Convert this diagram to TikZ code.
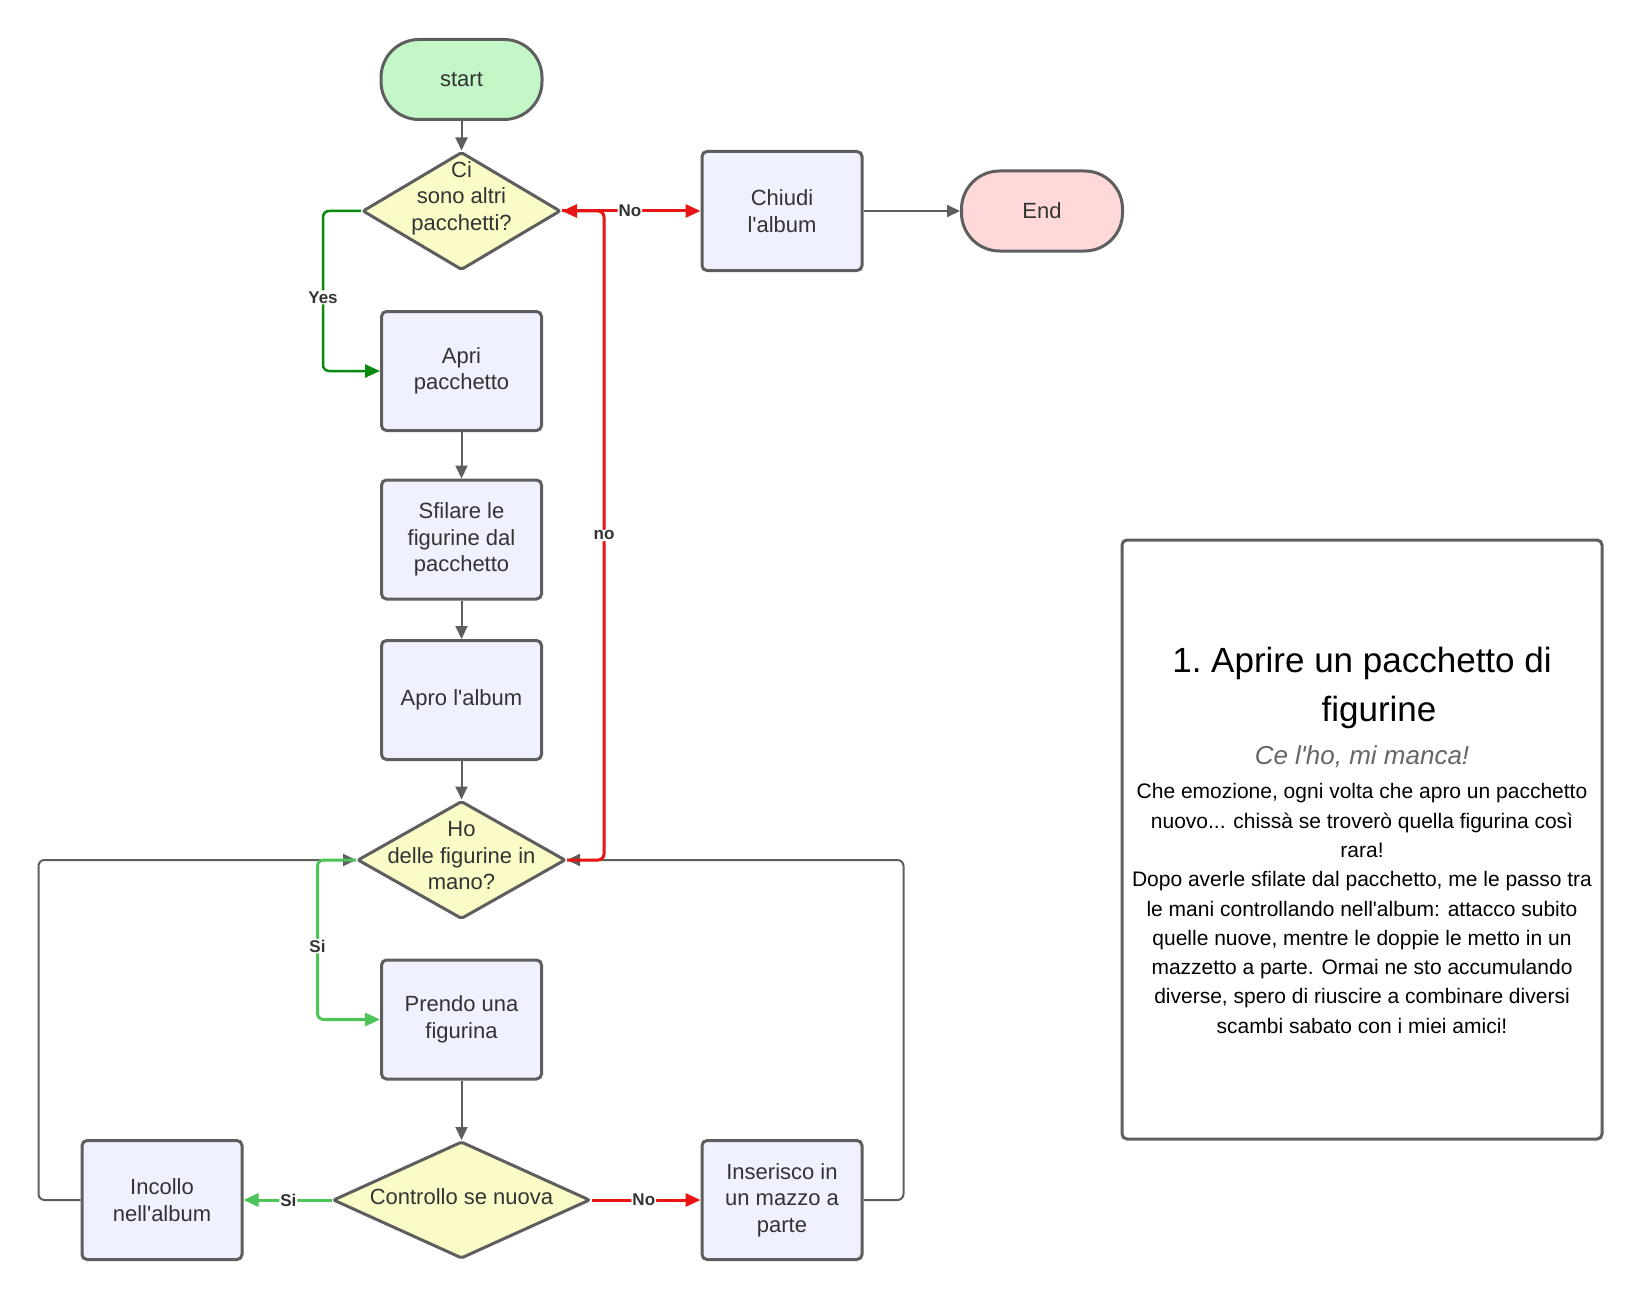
\documentclass[tikz,border=0pt]{standalone}
\usepackage{fontspec}
\setmainfont{Liberation Sans}[Ligatures=TeXOff]
\usetikzlibrary{shapes.geometric,arrows.meta}

\definecolor{lineGray}{HTML}{5E5E5E}
\definecolor{textGray}{HTML}{333333}
\definecolor{startFill}{HTML}{C3F7C8}
\definecolor{endFill}{HTML}{FFD9D9}
\definecolor{procFill}{HTML}{F0F1FE}
\definecolor{decFill}{HTML}{FBFBC8}
\definecolor{noRed}{HTML}{E81313}
\definecolor{yesGreen}{HTML}{088A10}
\definecolor{siGreen}{HTML}{4DC458}

\tikzset{
	base/.style={draw=lineGray, line width=3pt, text=textGray,
		font=\fontsize{22}{26.5}\selectfont, align=center, inner sep=0pt},
	terminal/.style={base, rounded corners=38pt, minimum width=161pt, minimum height=80pt},
	process/.style={base, fill=procFill, rounded corners=5pt, minimum width=160pt, minimum height=119pt},
	decision/.style={draw=lineGray, line width=3pt, fill=decFill, diamond, inner sep=0pt, rounded corners=2pt},
	dtext/.style={text=textGray, font=\fontsize{22}{26.5}\selectfont, align=center, inner sep=0pt},
	flow/.style={line width=2pt, draw=lineGray, rounded corners=6pt, -{Triangle[length=13pt,width=12pt]}},
	noflow/.style={flow, draw=noRed, line width=3pt, -{Triangle[length=15pt,width=13pt]}},
	yesflow/.style={flow, draw=yesGreen, line width=2.5pt, -{Triangle[length=15pt,width=13pt]}},
	siflow/.style={flow, draw=siGreen, line width=3pt, -{Triangle[length=15pt,width=13pt]}},
	lbl/.style={fill=white, text=textGray, font=\bfseries\fontsize{17}{19}\selectfont, inner sep=1pt},
}

\begin{document}
\begin{tikzpicture}[x=1pt, y=-1pt]
	\useasboundingbox[fill=white] (0,0) rectangle (1643,1300);

	% flowchart shapes
	\node[terminal, fill=startFill] (start) at (461.5,79.5) {start};
	\node[decision, minimum width=198pt, minimum height=118pt] (d1) at (461.5,211) {};
	\node[dtext] (d1t) at (461.5,198) {Ci\\sono altri\\pacchetti?};
	\node[process] (chiudi) at (782,211) {Chiudi\\l'album};
	\node[terminal, fill=endFill] (end) at (1042,211) {End};
	\node[process] (apri) at (461.5,371) {Apri\\pacchetto};
	\node[process] (sfilare) at (461.5,539.5) {Sfilare le\\figurine dal\\pacchetto};
	\node[process] (apro) at (461.5,700) {Apro l'album};
	\node[decision, minimum width=208pt, minimum height=118pt] (d2) at (461.5,860) {};
	\node[dtext] (d2t) at (461.5,856) {Ho\\delle figurine in\\mano?};
	\node[process] (prendo) at (461.5,1019.5) {Prendo una\\figurina};
	\node[decision, minimum width=257pt, minimum height=117pt] (d3) at (461.5,1200) {};
	\node[dtext] (d3t) at (461.5,1197) {Controllo se nuova};
	\node[process] (incollo) at (162,1200) {Incollo\\nell'album};
	\node[process] (inserisco) at (782,1200) {Inserisco in\\un mazzo a\\parte};

	% connectors
	\draw[flow] (start) -- (d1);
	\draw[flow] (chiudi) -- (end);
	\draw[flow] (apri) -- (sfilare);
	\draw[flow] (sfilare) -- (apro);
	\draw[flow] (apro) -- (d2);
	\draw[flow] (prendo) -- (d3);
	\draw[flow] (incollo.west) -- ++(-42,0) |- (d2.west);
	\draw[flow] (inserisco.east) -- ++(40,0) |- (d2.east);
	\draw[yesflow] (d1.west) -- ++(-38,0) |- node[lbl, pos=0.27] {Yes} (apri.west);
	\draw[siflow] (d2.west) -- ++(-38.5,0) |- node[lbl, pos=0.27] {Si} (prendo.west);
	\draw[noflow] (d2.east) -- ++(37,0) |- node[lbl, pos=0.25] {no} (d1.east);
	\draw[noflow] (d1.east) -- node[lbl, pos=0.49] {No} (chiudi.west);
	\draw[siflow] (d3.west) -- node[lbl, pos=0.49] {Si} (incollo.east);
	\draw[noflow] (d3.east) -- node[lbl, pos=0.48] {No} (inserisco.west);

	% description card
	\node[draw=lineGray, line width=3pt, rounded corners=5pt, minimum width=480pt, minimum height=599pt] (card) at (1362,839.5) {};
	\node[align=center, font=\fontsize{35}{49}\selectfont, inner sep=0pt] (title) at (1362,687.5) {1.\ Aprire un pacchetto di\\\hspace*{34pt}figurine};
	\node[text=black!60, font=\itshape\fontsize{26}{30}\selectfont, inner sep=0pt] (subtitle) at (1362,757) {Ce l'ho, mi manca!};
	\node[align=center, font=\fontsize{21}{29.3}\selectfont, inner sep=0pt] (body) at (1362,908.5) {Che emozione, ogni volta che apro un pacchetto\\nuovo... chissà se troverò quella figurina così\\rara!\\Dopo averle sfilate dal pacchetto, me le passo tra\\le mani controllando nell'album: attacco subito\\quelle nuove, mentre le doppie le metto in un\\mazzetto a parte. Ormai ne sto accumulando\\diverse, spero di riuscire a combinare diversi\\scambi sabato con i miei amici!};
\end{tikzpicture}
\end{document}
